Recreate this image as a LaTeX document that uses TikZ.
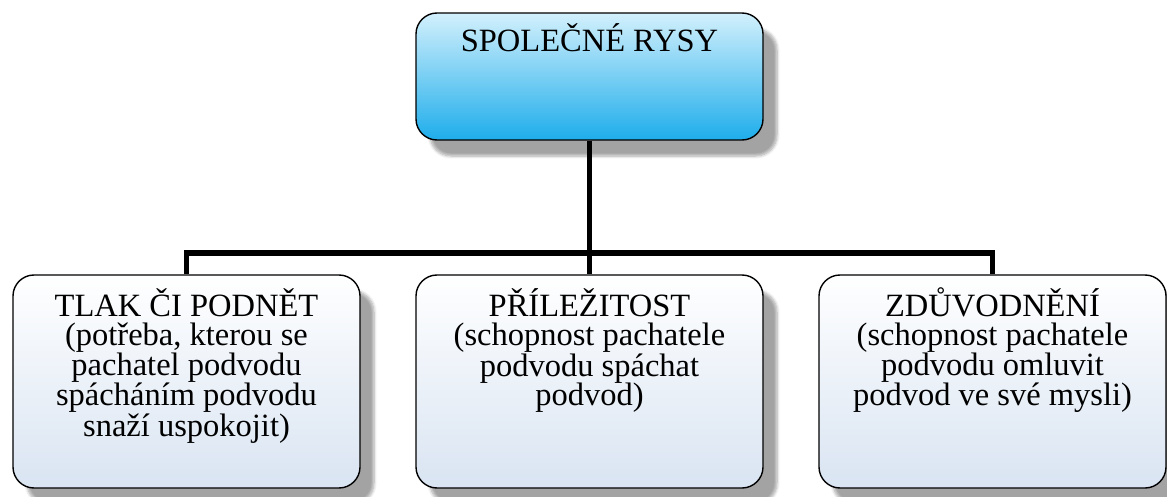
\documentclass[tikz,border=0pt]{standalone}
\usepackage{fontspec}
\setmainfont{Liberation Serif}
\usetikzlibrary{shadows.blur}

\pgfdeclarelayer{background}
\pgfsetlayers{background,main}

\definecolor{topLight}{HTML}{D2F0FC}
\definecolor{topDark}{HTML}{1EADEB}
\definecolor{lowLight}{HTML}{FFFFFF}
\definecolor{lowDark}{HTML}{D9E4F2}

\tikzset{
  card/.style={draw=black, line width=1.4pt, rounded corners=21pt,
    minimum width=347pt, inner sep=0pt, shading angle=30,
    blur shadow={shadow xshift=14pt, shadow yshift=-16pt,
      shadow blur radius=3pt, shadow blur steps=6, shadow opacity=36}},
  headbox/.style={card, minimum height=127pt, top color=topLight, bottom color=topDark},
  lowbox/.style={card, minimum height=213pt, top color=lowLight, bottom color=lowDark},
  cardlabel/.style={anchor=base, inner sep=0pt, font=\rmfamily\fontsize{32.5}{29.5}\selectfont},
  conn/.style={draw=black, line width=5.5pt, line join=miter},
}

\newcommand{\cardtext}[1]{\begin{minipage}[t]{340pt}\centering #1\end{minipage}}

\begin{document}
\begin{tikzpicture}[x=1pt, y=-1pt]
  \useasboundingbox (0,0) rectangle (1167,497);

  % junction bar between the head and the three causes
  \coordinate (bar) at (589.5,253);

  % boxes
  \path (589.5,76.5)  node[headbox] (head) {};
  \path (186.5,381.5) node[lowbox]  (p1) {};
  \path (589.5,381.5) node[lowbox]  (p2) {};
  \path (992.5,381.5) node[lowbox]  (p3) {};

  % connectors, kept beneath the boxes
  \begin{pgfonlayer}{background}
    \draw[conn] (head.south) -- (p2.north);
    \draw[conn] (p1.north) -- (p1.north |- bar) -- (p3.north |- bar) -- (p3.north);
  \end{pgfonlayer}

  % texts
  \node[cardlabel] (headtext) at ([yshift=-39pt]head.north) {\cardtext{SPOLEČNÉ RYSY}};
  \node[cardlabel] (p1text) at ([yshift=-42pt]p1.north)
    {\cardtext{TLAK ČI PODNĚT\\(potřeba, kterou se\\pachatel podvodu\\spácháním podvodu\\snaží uspokojit)}};
  \node[cardlabel] (p2text) at ([yshift=-42pt]p2.north)
    {\cardtext{PŘÍLEŽITOST\\(schopnost pachatele\\podvodu spáchat\\podvod)}};
  \node[cardlabel] (p3text) at ([yshift=-42pt]p3.north)
    {\cardtext{ZDŮVODNĚNÍ\\(schopnost pachatele\\podvodu omluvit\\podvod ve své mysli)}};
\end{tikzpicture}
\end{document}
